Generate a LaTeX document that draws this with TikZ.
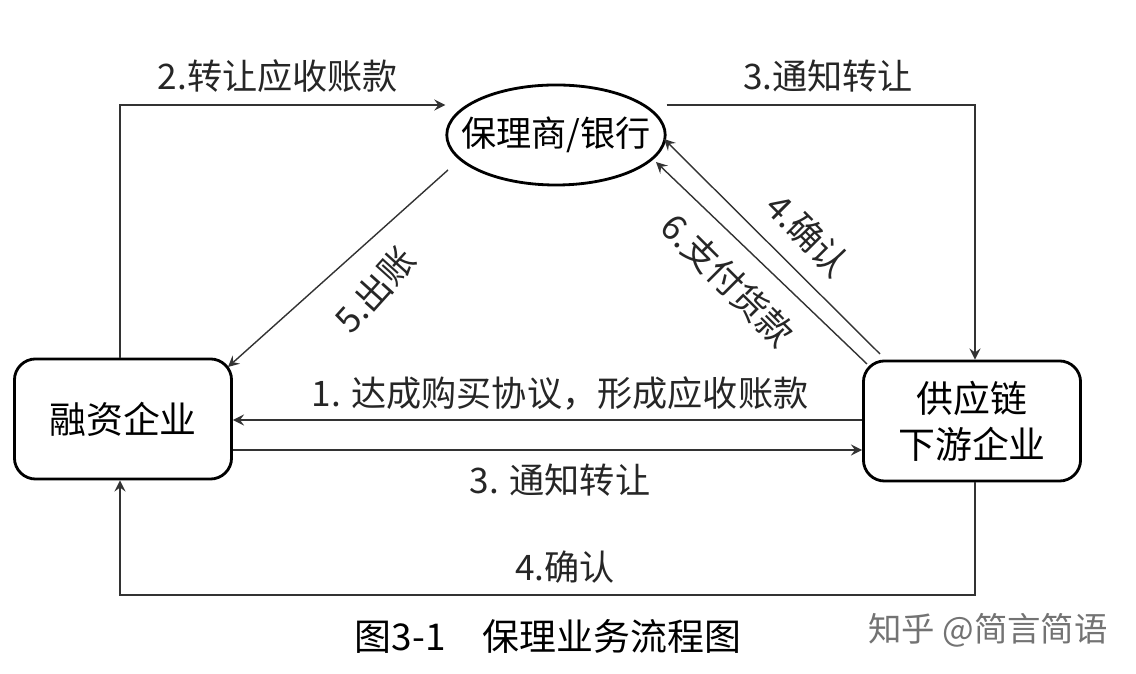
\documentclass[tikz,border=0pt]{standalone}
\usepackage{fontspec}
\setmainfont{Noto Sans CJK SC}
\usetikzlibrary{shapes.geometric}
\begin{document}
\begin{tikzpicture}[x=0.01cm,y=-0.01cm,
	box/.style={draw,thick,rounded corners=6pt,minimum width=2.17cm,minimum height=1.2cm,align=center,font=\fontsize{10.5}{13}\selectfont},
	lbl/.style={font=\fontsize{10}{12}\selectfont,text=black!85,inner sep=1pt},
	link/.style={draw=black!80,-stealth}]
	\useasboundingbox (0,0) rectangle (1136,674);
	\node [ellipse,draw,thick,inner xsep=-5pt,inner ysep=0pt,minimum height=1cm,font=\fontsize{10}{12}\selectfont] (bank) at (556,135) {保理商/银行};
	\node [box] (fin) at (123,419) {融资企业};
	\node [box] (down) at (972,421) {供应链\\下游企业};
	\coordinate (tl) at (120,105);
	\coordinate (tr) at (975,105);
	\coordinate (bl) at (120,595);
	\coordinate (br) at (975,595);
	\coordinate (b5) at (448,170);
	\coordinate (f5) at (228,367);
	\coordinate (d4) at (880,354);
	\coordinate (b4) at (664,139);
	\coordinate (d6) at (867,364);
	\coordinate (b6) at (656,162);
	% outer loop
	\draw [link] (fin.north -| tl) -- (tl) -- (bank.west |- tl);
	\draw [link] (bank.east |- tr) -- (tr) -- (down.north -| tr);
	\draw [link] (down.south -| br) -- (br) -- (bl) -- (fin.south -| bl);
	% middle arrows
	\draw [link] (down.west |- 0,420) -- (fin.east |- 0,420);
	\draw [link] (fin.east |- 0,450) -- (down.west |- 0,450);
	\draw [link] (b5) -- (f5);
	\draw [link] (d4) -- (b4);
	\draw [link] (d6) -- (b6);
	% labels
	\node [lbl] (l2) at (278,76) {2.转让应收账款};
	\node [lbl] (l3a) at (828,76) {3.通知转让};
	\node [lbl] (l1) at (560,393) {1. 达成购买协议，形成应收账款};
	\node [lbl] (l3b) at (560,480) {3. 通知转让};
	\node [lbl] (l4b) at (565,567) {4.确认};
	\node [lbl,rotate=48] (l5) at (375,290) {5.出账};
	\node [lbl,rotate=-45] (l4a) at (808,235) {4.确认};
	\node [lbl,rotate=-45] (l6) at (728,280) {6.支付货款};
	\node [font=\fontsize{10.5}{13}\selectfont] (title) at (548,636) {图3-1\quad 保理业务流程图};
	\node [font=\fontsize{9.5}{12}\selectfont,text=black!55] (mark) at (988,630) {知乎 @简言简语};
\end{tikzpicture}
\end{document}
